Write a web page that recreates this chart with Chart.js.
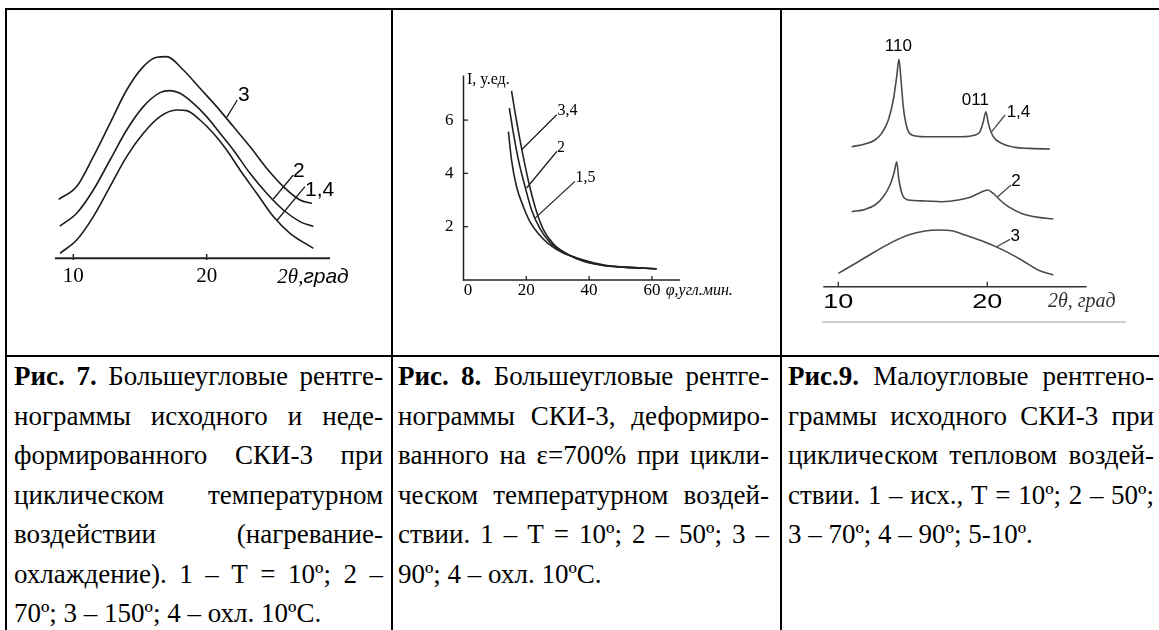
<!DOCTYPE html>
<html>
<head>
<meta charset="utf-8">
<script src="https://cdn.jsdelivr.net/npm/chart.js@4.4.1/dist/chart.umd.min.js"></script>
<style>
  html, body { margin: 0; padding: 0; background: #fff; }
  #page { position: relative; width: 1159px; height: 630px; overflow: hidden; background: #fff; }
  .rule { position: absolute; background: #000; }
  canvas.fig { position: absolute; }
  .cap { position: absolute; top: 357px; font-family: "Liberation Serif", "Times New Roman", serif; font-size: 27px; color: #000; }
  .cap .ln { height: 39.5px; line-height: 39.5px; white-space: nowrap; }
  .cap .ln span { display: inline-block; }
</style>
</head>
<body>
<div id="page">
  <canvas id="fig7" class="fig" width="384" height="345" style="left:7px;top:10px"></canvas>
  <canvas id="fig8" class="fig" width="386" height="345" style="left:394px;top:10px"></canvas>
  <canvas id="fig9" class="fig" width="375" height="345" style="left:784px;top:10px"></canvas>

  <div class="rule" style="left:5px;top:8px;width:1154px;height:2px"></div>
  <div class="rule" style="left:5px;top:8px;width:2px;height:622px"></div>
  <div class="rule" style="left:391px;top:8px;width:2px;height:622px"></div>
  <div class="rule" style="left:780px;top:8px;width:2px;height:622px"></div>
  <div class="rule" style="left:5px;top:355px;width:1154px;height:2px"></div>

  <div class="cap" style="left:14px;width:369px">
    <div class="ln j"><span><b>Рис. 7.</b> Большеугловые рентге-</span></div>
    <div class="ln j"><span>нограммы исходного и неде-</span></div>
    <div class="ln j"><span>формированного СКИ-3 при</span></div>
    <div class="ln j"><span>циклическом температурном</span></div>
    <div class="ln j"><span>воздействии (нагревание-</span></div>
    <div class="ln j"><span>охлаждение). 1 – Т = 10º; 2 –</span></div>
    <div class="ln"><span>70º; 3 – 150º; 4 – охл. 10ºC.</span></div>
  </div>
  <div class="cap" style="left:398px;width:371px">
    <div class="ln j"><span><b>Рис. 8.</b> Большеугловые рентге-</span></div>
    <div class="ln j"><span>нограммы СКИ-3, деформиро-</span></div>
    <div class="ln j"><span>ванного на ε=700% при цикли-</span></div>
    <div class="ln j"><span>ческом температурном воздей-</span></div>
    <div class="ln j"><span>ствии. 1 – Т = 10º; 2 – 50º; 3 –</span></div>
    <div class="ln"><span>90º; 4 – охл. 10ºC.</span></div>
  </div>
  <div class="cap" style="left:788px;width:366px">
    <div class="ln j"><span><b>Рис.9.</b> Малоугловые рентгено-</span></div>
    <div class="ln j"><span>граммы исходного СКИ-3 при</span></div>
    <div class="ln j"><span>циклическом тепловом воздей-</span></div>
    <div class="ln j"><span>ствии. 1 – исх., Т = 10º; 2 – 50º;</span></div>
    <div class="ln"><span>3 – 70º; 4 – 90º; 5-10º.</span></div>
  </div>
</div>

<script>
// ---- Рис. 7: большеугловые рентгенограммы (2θ, град; интенсивность, отн.) ----
const fig7Ticks = [10, 20];
const fig7Angle3 = [8.9, 10.25, 11.5, 12.75, 14, 15.25, 16.25, 17, 18.25, 19.5, 20.75, 22, 23.25, 24.5, 25.75, 27, 27.9];
const fig7Int3 = [59, 71.7, 101.7, 135, 168.3, 191.7, 201, 201.7, 188.3, 170, 151.7, 131.7, 111.7, 90, 71.7, 58.3, 55];
const fig7Angle2 = [9, 10.25, 11.5, 12.75, 14, 15.25, 16.5, 17.25, 18, 19, 20, 21, 22, 23.25, 24.5, 25.75, 27, 28];
const fig7Int2 = [32.3, 45, 68.3, 98.3, 128.3, 151.7, 165.7, 167.7, 165, 155, 141.7, 125, 108.3, 85, 65, 48.3, 36.7, 31.7];
const fig7Angle14 = [9, 10.25, 11.5, 12.75, 14, 15.25, 16.5, 17.75, 18.5, 19.5, 20.5, 21.5, 22.5, 23.75, 25, 26.25, 28];
const fig7Int14 = [5, 18.3, 41.7, 71.7, 101.7, 125, 141.7, 148.3, 147.7, 138.3, 125, 108.3, 88.3, 65, 41.7, 25, 10];

// ---- Рис. 8: I, у.ед. от φ, угл. мин. ----
const fig8XTicks = [0, 20, 40, 60];
const fig8YTicks = [2, 4, 6];
const fig8Phi34 = [15.3, 16.4, 18.0, 19.6, 21.2, 23.3, 25.4, 28.6, 32.9, 38.2, 44.5, 50.9, 61.5];
const fig8I34 = [7.1, 6.3, 5.25, 4.3, 3.45, 2.55, 1.9, 1.36, 0.98, 0.70, 0.54, 0.48, 0.42];
const fig8Phi2 = [14.6, 15.9, 17.5, 19.6, 21.7, 24.4, 27.5, 31.8, 38.2, 44.5, 50.9, 61.5];
const fig8I2 = [6.45, 5.5, 4.5, 3.5, 2.62, 1.92, 1.42, 1.04, 0.73, 0.54, 0.48, 0.42];
const fig8Phi15 = [14.3, 15.3, 16.9, 19.1, 21.2, 23.8, 27.0, 31.3, 37.1, 44.5, 50.9, 61.5];
const fig8I15 = [5.57, 4.5, 3.5, 2.74, 2.18, 1.74, 1.36, 1.04, 0.79, 0.57, 0.48, 0.42];

// ---- Рис. 9: малоугловые рентгенограммы ----
const fig9Ticks = [10, 20];
const fig9Angle14 = [10.9, 11.79, 12.46, 12.91, 13.36, 13.69, 13.92, 14.07, 14.21, 14.36, 14.59, 14.93, 15.82, 16.94, 18.28, 19.17, 19.51, 19.73, 19.91, 20.07, 20.4, 20.97, 21.86, 22.75, 24.21];
const fig9Int14 = [140, 142.7, 146.7, 153.3, 166.7, 186.7, 210, 227.3, 206.7, 180, 160, 151.7, 150, 150, 150, 151.7, 155, 165, 175, 163.3, 150, 143.3, 139.3, 138.3, 137.7];
const fig9Angle2 = [10.9, 11.79, 12.46, 13.02, 13.47, 13.76, 13.92, 14.07, 14.36, 14.7, 15.82, 16.94, 18.06, 18.95, 19.51, 20.03, 20.4, 20.85, 21.41, 22.3, 23.42, 24.43];
const fig9Int2 = [75, 77.3, 81.7, 90, 101.7, 115, 125, 106.7, 90, 86.7, 85.7, 85, 86.7, 90, 94, 96.7, 93.3, 86.7, 80, 73.3, 69.3, 67.7];
const fig9Angle3 = [10.0, 11.34, 12.46, 13.58, 14.7, 15.82, 16.71, 17.61, 18.5, 19.62, 20.97, 22.3, 23.42, 24.43];
const fig9Int3 = [13.3, 25, 35, 44.3, 51.7, 55.7, 56.7, 56, 51.7, 46, 37.3, 26.7, 16.7, 11.7];

function series(xs, ys, color, width) {
  return {
    data: xs.map((v, i) => ({ x: v, y: ys[i] })),
    showLine: true,
    borderColor: color,
    borderWidth: width,
    pointRadius: 0,
    cubicInterpolationMode: 'monotone',
    fill: false,
    clip: false
  };
}

// text centred vertically on y; sx stretches the glyphs horizontally
function text(ctx, s, x, y, font, align, color, sx) {
  ctx.save();
  ctx.font = font;
  ctx.fillStyle = color || '#000';
  ctx.textAlign = align || 'center';
  ctx.textBaseline = 'middle';
  ctx.translate(x, y);
  ctx.scale(sx || 1, 1);
  ctx.fillText(s, 0, 0);
  ctx.restore();
}

function seg(ctx, x1, y1, x2, y2, color, width) {
  ctx.save();
  ctx.strokeStyle = color;
  ctx.lineWidth = width;
  ctx.beginPath();
  ctx.moveTo(x1, y1);
  ctx.lineTo(x2, y2);
  ctx.stroke();
  ctx.restore();
}

// leader line from a curve to its number, in data coordinates
function leaders(chart, notes, font, color) {
  const { ctx, scales: { x, y } } = chart;
  notes.forEach(n => {
    seg(ctx, x.getPixelForValue(n.from[0]), y.getPixelForValue(n.from[1]),
        x.getPixelForValue(n.to[0]), y.getPixelForValue(n.to[1]), color, 1.3);
    text(ctx, n.label, x.getPixelForValue(n.at[0]), y.getPixelForValue(n.at[1]), font, 'left', '#000');
  });
}

function makeChart(id, sets, sx, sy, pad, plugin) {
  return new Chart(document.getElementById(id), {
    type: 'scatter',
    data: { datasets: sets },
    options: {
      responsive: false,
      animation: false,
      events: [],
      layout: { padding: pad },
      plugins: { legend: { display: false }, tooltip: { enabled: false } },
      scales: {
        x: { type: 'linear', min: sx[0], max: sx[1], display: false },
        y: { type: 'linear', min: sy[0], max: sy[1], display: false }
      }
    },
    plugins: [plugin]
  });
}

Chart.defaults.font.family = '"Liberation Sans", Arial, sans-serif';

// Рис. 7
makeChart('fig7', [
  series(fig7Angle3, fig7Int3, '#1c1c1c', 1.6),
  series(fig7Angle2, fig7Int2, '#1c1c1c', 1.6),
  series(fig7Angle14, fig7Int14, '#1c1c1c', 1.6)
], [8, 30], [0, 220], { left: 39.67, right: 51, top: 28.3, bottom: 96.7 }, {
  id: 'fig7Axis',
  afterDatasetsDraw(chart) {
    const { ctx, scales: { x, y } } = chart;
    const y0 = y.getPixelForValue(0);
    seg(ctx, x.getPixelForValue(8.62), y0, x.getPixelForValue(29.25), y0, '#222', 2);
    fig7Ticks.forEach(t => {
      const px = x.getPixelForValue(t);
      seg(ctx, px, y0 + 1.7, px, y0 - 4.3, '#222', 1.5);
      text(ctx, String(t), px, y0 + 18, '21px "Liberation Serif"', 'center');
    });
    const tx = x.getPixelForValue(25.3);
    ctx.save();
    ctx.font = 'italic 21px "Liberation Serif"';
    const w = ctx.measureText('2θ,').width;
    ctx.restore();
    text(ctx, '2θ,', tx, y0 + 19, 'italic 21px "Liberation Serif"', 'left');
    text(ctx, 'град', tx + w, y0 + 19, 'italic 21px "Liberation Sans"', 'left');
    leaders(chart, [
      { label: '3', from: [21.5, 141], to: [22.3, 158.3], at: [22.35, 163.3] },
      { label: '2', from: [25.0, 59.3], to: [26.5, 83.3], at: [26.48, 87.3] },
      { label: '1,4', from: [25.3, 38.3], to: [27.37, 71.6], at: [27.38, 68.3] }
    ], '21px "Liberation Sans"', '#1c1c1c');
  }
});

// Рис. 8
makeChart('fig8', [
  series(fig8Phi34, fig8I34, '#222', 1.6),
  series(fig8Phi2, fig8I2, '#222', 1.6),
  series(fig8Phi15, fig8I15, '#222', 1.6)
], [-5, 75], [-1, 8], { left: 53.8, right: 81, top: 56.8, bottom: 48.4 }, {
  id: 'fig8Axis',
  afterDatasetsDraw(chart) {
    const { ctx, scales: { x, y } } = chart;
    const x0 = x.getPixelForValue(0), y0 = y.getPixelForValue(0);
    seg(ctx, x0, y.getPixelForValue(7.67), x0, y0 + 0.7, '#222', 1.5);
    seg(ctx, x0 - 0.7, y0, x.getPixelForValue(69), y0, '#222', 1.5);
    const f = '17px "Liberation Serif"';
    fig8YTicks.forEach(t => {
      const py = y.getPixelForValue(t);
      seg(ctx, x0, py, x0 + 4.5, py, '#222', 1.3);
      text(ctx, String(t), x0 - 10, py, f, 'right');
    });
    fig8XTicks.forEach(t => {
      const px = x.getPixelForValue(t);
      if (t > 0) seg(ctx, px, y0, px, y0 - 4, '#222', 1.3);
      text(ctx, String(t), t === 0 ? px + 4.5 : px, y0 + 10.5, f, 'center');
    });
    text(ctx, 'I, у.ед.', x0 + 3.5, y.getPixelForValue(7.52), '16px "Liberation Serif"', 'left');
    text(ctx, 'φ,угл.мин.', x.getPixelForValue(64.4), y0 + 10.5, 'italic 16px "Liberation Serif"', 'left');
    leaders(chart, [
      { label: '3,4', from: [18.5, 4.89], to: [29.7, 6.2], at: [29.9, 6.33] },
      { label: '2', from: [20.1, 3.45], to: [29.7, 4.82], at: [29.8, 4.95] },
      { label: '1,5', from: [22.8, 2.32], to: [35.5, 3.7], at: [35.7, 3.82] }
    ], '16px "Liberation Serif"', '#222');
  }
});

// Рис. 9
makeChart('fig9', [
  series(fig9Angle14, fig9Int14, '#4a4a4a', 1.6),
  series(fig9Angle2, fig9Int2, '#4a4a4a', 1.6),
  series(fig9Angle3, fig9Int3, '#4a4a4a', 1.6)
], [8, 28], [0, 250], { left: 24.5, right: 52.5, top: 26.7, bottom: 68.3 }, {
  id: 'fig9Axis',
  afterDatasetsDraw(chart) {
    const { ctx, scales: { x, y } } = chart;
    const y0 = y.getPixelForValue(0);
    seg(ctx, x.getPixelForValue(8.99), y0, x.getPixelForValue(26.67), y0, '#333', 1.5);
    fig9Ticks.forEach(t => {
      const px = x.getPixelForValue(t);
      seg(ctx, px, y0, px, y0 - 5, '#333', 1.3);
      text(ctx, String(t), px, y0 + 15.5, '20px "Liberation Sans"', 'center', '#000', 1.35);
    });
    text(ctx, '2θ, град', x.getPixelForValue(24.07), y0 + 15.5, 'italic 20px "Liberation Serif"', 'left', '#333');
    seg(ctx, x.getPixelForValue(8.9), y0 + 35.3, x.getPixelForValue(29.3), y0 + 35.3, '#9a9a9a', 1);
    const f = '17px "Liberation Sans"';
    text(ctx, '110', x.getPixelForValue(14.03), y.getPixelForValue(240), f, 'center');
    text(ctx, '011', x.getPixelForValue(19.2), y.getPixelForValue(186.7), f, 'center');
    leaders(chart, [
      { label: '1,4', from: [20.3, 155], to: [21.19, 171.7], at: [21.3, 174] },
      { label: '2', from: [20.7, 90], to: [21.59, 101.7], at: [21.6, 105] },
      { label: '3', from: [20.63, 40], to: [21.52, 47.3], at: [21.55, 50] }
    ], f, '#4a4a4a');
  }
});

// justified caption lines: stretch the word gaps to fill the column
function justifyCaptions() {
  document.querySelectorAll('.cap .ln.j').forEach(el => {
    const span = el.firstElementChild;
    span.style.wordSpacing = '0px';
    const box = el.clientWidth;
    const w = span.getBoundingClientRect().width;
    const n = (span.textContent.match(/ /g) || []).length;
    if (n > 0 && box > w) span.style.wordSpacing = ((box - w) / n) + 'px';
  });
}
justifyCaptions();
if (document.fonts && document.fonts.ready) document.fonts.ready.then(justifyCaptions);
</script>
</body>
</html>
